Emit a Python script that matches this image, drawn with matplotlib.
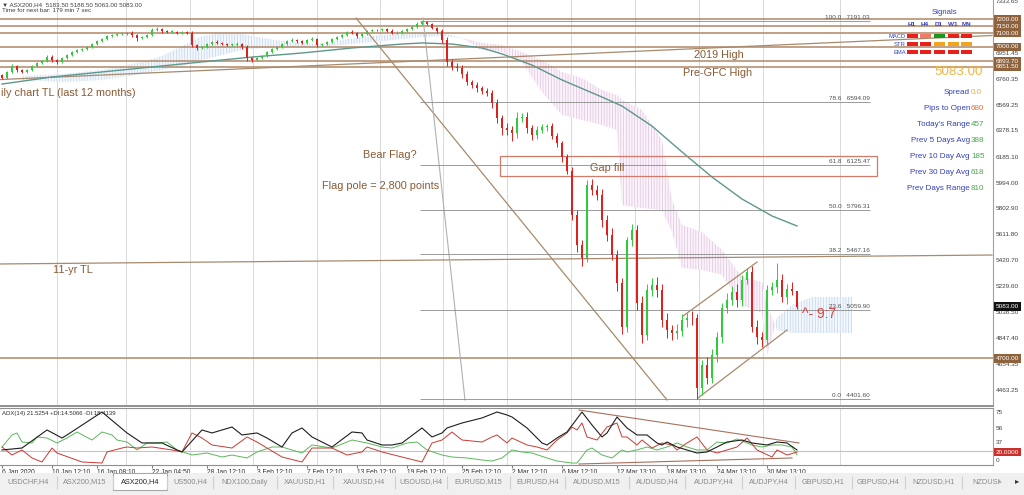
import numpy as np
import matplotlib
matplotlib.use("Agg")
import matplotlib.pyplot as plt
from matplotlib.patches import Rectangle

plt.rcParams['font.family'] = ['Liberation Sans', 'DejaVu Sans']
plt.rcParams['hatch.linewidth'] = 0.5

# ---------------- data (ASX200 H4, one candle per two bars) ----------------
first_open = 6790
closes = [6768, 6813, 6857, 6828, 6813, 6828, 6857, 6879, 6894, 6923,
          6901, 6887, 6916, 6938, 6960, 6975, 6982, 6997, 7019, 7041,
          7056, 7078, 7086, 7093, 7095, 7100, 7086, 7064, 7071, 7086,
          7123, 7130, 7115, 7108, 7110, 7100, 7108, 7100, 7012, 6990,
          6997, 7019, 7034, 7027, 7019, 7012, 7015, 7019, 6997, 6916,
          6901, 6916, 6931, 6960, 6982, 6997, 7019, 7041, 7049, 7041,
          7027, 7049, 7056, 7012, 7019, 7034, 7056, 7071, 7086, 7108,
          7100, 7078, 7093, 7115, 7123, 7120, 7130, 7115, 7100, 7104,
          7115, 7130, 7145, 7167, 7182, 7167, 7137, 7115, 7049, 6887,
          6850, 6842, 6798, 6739, 6717, 6695, 6673, 6658, 6584, 6474,
          6400, 6385, 6363, 6474, 6481, 6400, 6348, 6385, 6407, 6415,
          6341, 6289, 6186, 6083, 5758, 5537, 5441, 5980, 5943, 5906,
          5721, 5611, 5463, 5257, 4932, 5574, 5647, 5109, 4873, 5205,
          5242, 5205, 4984, 4910, 4888, 4905, 4984, 4999, 4995, 4482,
          4652, 4556, 4726, 4858, 5072, 5131, 5190, 5131, 5279, 5338,
          4932, 4858, 4836, 5205, 5227, 5279, 5153, 5212, 5200, 5083]
upper_wick = [10, 8, 12, 6, 8, 10, 8, 6, 10, 12,
              15, 8, 6, 10, 8, 6, 10, 8, 6, 8,
              10, 6, 8, 10, 6, 8, 12, 6, 10, 8,
              15, 12, 8, 6, 10, 8, 6, 10, 12, 8,
              6, 10, 8, 12, 6, 10, 8, 12, 10, 15,
              10, 8, 6, 10, 8, 6, 10, 8, 12, 10,
              8, 10, 15, 8, 6, 10, 8, 6, 10, 8,
              12, 10, 6, 8, 10, 6, 8, 10, 12, 8,
              6, 8, 10, 12, 9, 10, 8, 10, 15, 20,
              25, 30, 20, 25, 15, 20, 15, 25, 20, 30,
              25, 40, 30, 45, 30, 35, 25, 30, 20, 15,
              20, 25, 15, 20, 30, 40, 35, 37, 40, 35,
              45, 40, 50, 35, 40, 22, 45, 40, 55, 45,
              50, 60, 45, 55, 40, 50, 45, 40, 50, 35,
              40, 60, 45, 40, 35, 50, 45, 60, 40, 30,
              45, 50, 40, 35, 40, 122, 45, 40, 50, 0]
lower_wick = [8, 6, 10, 12, 8, 6, 10, 8, 6, 10,
              12, 15, 8, 6, 10, 8, 6, 10, 8, 6,
              8, 10, 6, 8, 10, 6, 15, 20, 8, 6,
              10, 8, 12, 6, 8, 10, 6, 8, 15, 12,
              10, 8, 6, 10, 8, 6, 10, 8, 12, 20,
              15, 10, 8, 6, 10, 8, 6, 10, 8, 12,
              10, 6, 8, 15, 10, 8, 6, 10, 8, 6,
              10, 12, 8, 6, 10, 8, 6, 8, 10, 6,
              8, 6, 10, 8, 6, 10, 8, 12, 20, 30,
              25, 20, 30, 25, 20, 30, 25, 20, 35, 40,
              50, 40, 60, 35, 30, 40, 35, 30, 25, 30,
              25, 30, 35, 25, 40, 50, 61, 30, 35, 40,
              50, 45, 40, 60, 50, 40, 45, 50, 59, 40,
              45, 50, 55, 60, 50, 45, 40, 50, 45, 80,
              50, 45, 40, 50, 45, 35, 40, 50, 45, 30,
              40, 50, 55, 40, 35, 45, 40, 50, 35, 20]

ma_bars = [0, 10, 20, 30, 40, 50, 60, 70, 80, 84, 90, 96, 100, 106, 112,
           120, 124, 130, 136, 142, 148, 154, 159]
ma_vals = [6724, 6776, 6813, 6850, 6887, 6923, 6953, 6990, 7019, 7027, 7019,
           6990, 6946, 6864, 6754, 6628, 6562, 6414, 6223, 6038, 5876, 5751, 5677]

cloud_bars = [4, 8, 12, 16, 20, 24, 28, 32, 36, 40, 44, 48, 52, 56, 60, 64, 68,
              72, 76, 80, 84, 88, 92, 96, 100, 104, 108, 112, 116, 120, 123, 124,
              128, 132, 134, 136, 140, 144, 148, 152, 153, 155, 158, 162, 166, 170]
span_a = [6783, 6791, 6798, 6813, 6828, 6857, 6887, 6931, 7005, 7078, 7100, 7093,
          7064, 7041, 7027, 7019, 7049, 7071, 7086, 7093, 7100, 7100, 7064, 6975,
          6960, 6887, 6665, 6496, 6459, 6422, 6385, 5832, 5810, 5795, 5633, 5367,
          5353, 5316, 5094, 5035, 4726, 4999, 5094, 5153, 5153, 5153]
span_b = [6754, 6746, 6739, 6746, 6754, 6776, 6798, 6828, 6857, 6901, 6938, 6975,
          6990, 6997, 6997, 6997, 7012, 7027, 7041, 7056, 7071, 7078, 7064, 7027,
          7012, 6960, 6901, 6813, 6768, 6680, 6643, 6606, 6533, 6311, 5869, 5684,
          5633, 5501, 5301, 5264, 5094, 4910, 4888, 4888, 4888, 4888]

levels = [7200.00, 7150.00, 7100.00, 7000.00, 6893.70, 6851.50, 4700.00]
fib_pcts = [100.0, 78.6, 61.8, 50.0, 38.2, 23.6, 0.0]
fib_prices = [7191.03, 6594.09, 6125.47, 5796.31, 5467.16, 5059.90, 4401.60]
price_ticks = [7333.65, 6951.45, 6760.35, 6569.25, 6378.15, 6185.10, 5994.00,
               5802.90, 5611.80, 5420.70, 5229.60, 5038.50, 4847.40, 4654.35, 4463.25]
last_price = 5083.00

# trendlines (bar0, price0, bar1, price1)
brown_lines = [(-0.4, 6757, 198.0, 7082),    # daily chart TL
               (-0.4, 5397, 198.0, 5463),    # 11-yr TL
               (70.8, 7211, 133.0, 4394),    # flag pole TL
               (136.2, 5013, 151.0, 5411),   # channel top
               (139.2, 4409, 157.0, 4910)]   # channel bottom
gray_line = (84.2, 7211, 92.6, 4394)
gap_box = (99.6, 6046, 175.0, 6193)

# ADX(14) panel
adx_bars = [0, 4, 9, 12, 13, 20, 25, 28, 32, 35, 36, 40, 42, 46, 48, 51, 53, 56, 58, 60,
            62, 64, 66, 70, 72, 73, 76, 78, 80, 84, 86, 88, 89, 92, 96, 99, 101, 102, 105,
            108, 109, 111, 113, 116, 118, 120, 121, 123, 125, 127, 129, 131, 132, 133, 135,
            139, 141, 143, 145, 148, 150, 153, 155, 157, 159]
adx_vals = [21.5, 24.3, 50.4, 38.8, 43.2, 76.4, 46.1, 31.6, 31.6, 21.5, 18.6, 50.4, 46.1,
            54.7, 43.2, 46.1, 38.8, 25.8, 46.1, 53.3, 40.3, 33.0, 25.8, 47.5, 46.1, 35.9,
            28.7, 28.7, 31.6, 53.3, 40.3, 46.1, 53.3, 60.5, 67.8, 76.4, 72.1, 69.2, 53.3,
            31.6, 28.7, 38.8, 47.5, 76.4, 57.6, 40.3, 46.1, 69.2, 53.3, 43.2, 43.2, 31.6,
            28.7, 33.0, 25.8, 17.1, 18.6, 25.8, 33.0, 35.9, 31.6, 28.7, 33.0, 31.6, 21.5]
mdi_bars = [0, 2, 4, 6, 8, 10, 11, 16, 20, 21, 24, 25, 27, 30, 34, 36, 38, 40, 42, 46,
            49, 51, 53, 56, 60, 62, 66, 69, 72, 73, 76, 80, 84, 86, 88, 90, 92, 96, 98, 99,
            101, 102, 105, 107, 109, 111, 113, 114, 115, 116, 117, 119, 121, 123, 124, 125,
            127, 128, 130, 132, 134, 135, 137, 139, 141, 143, 145, 147, 149, 151, 154, 155,
            157, 159]
mdi_vals = [25.8, 14.2, 21.5, 9.9, 4.1, 24.3, 17.1, 4.1, 2.6, 18.6, 24.3, 25.8, 24.3, 25.8,
            21.5, 18.6, 46.1, 38.8, 28.7, 24.3, 40.3, 33.0, 24.3, 11.3, 4.1, 24.3, 24.3, 14.2,
            18.6, 25.8, 18.6, 11.3, 4.1, 31.6, 35.9, 47.5, 35.9, 33.0, 40.3, 43.2, 31.6, 38.8,
            28.7, 25.8, 21.5, 35.9, 46.1, 54.7, 50.4, 60.5, 40.3, 35.9, 54.7, 60.5, 40.3, 40.3,
            28.7, 35.9, 24.3, 31.6, 28.7, 21.5, 31.6, 40.3, 21.5, 17.1, 21.5, 25.8, 38.8, 21.5,
            11.3, 21.5, 14.2, 18.4]
pdi_bars = [0, 2, 3, 4, 6, 7, 9, 11, 13, 15, 18, 20, 22, 23, 25, 27, 29, 31, 33, 35, 38,
            41, 44, 46, 49, 51, 54, 56, 60, 62, 66, 70, 73, 76, 78, 81, 83, 85, 88, 90, 93,
            96, 98, 100, 102, 104, 106, 109, 111, 114, 115, 117, 118, 120, 122, 124, 125, 127,
            129, 131, 133, 135, 137, 139, 141, 143, 145, 147, 149, 150, 152, 154, 156, 158, 159]
pdi_vals = [25.8, 43.2, 46.1, 33.0, 31.6, 40.3, 38.8, 31.6, 38.8, 47.5, 35.9, 47.5, 43.2,
            35.9, 33.0, 21.5, 31.6, 31.6, 33.0, 21.5, 14.2, 17.1, 11.3, 14.2, 9.9, 18.6, 25.8,
            25.8, 17.1, 28.7, 24.3, 35.9, 31.6, 25.8, 24.3, 31.6, 33.0, 21.5, 14.2, 11.3, 9.9,
            7.0, 5.5, 9.9, 21.5, 18.6, 17.1, 9.9, 5.5, 2.6, 2.6, 21.5, 24.3, 14.2, 9.9, 21.5,
            18.6, 21.5, 25.8, 21.5, 25.8, 31.6, 25.8, 21.5, 21.5, 33.0, 31.6, 37.4, 31.6, 28.7,
            25.8, 28.7, 28.7, 25.8, 14.5]
adx_wedge = [(115.4, 79.3, 159.4, 31.6), (115.4, 1.2, 158.0, 9.9)]

date_bars = [0, 10, 19, 30, 41, 51, 61, 71, 81, 92, 102, 112, 123, 133, 143, 153]
date_labels = ["6 Jan 2020", "10 Jan 12:10", "16 Jan 08:10", "22 Jan 04:50",
               "28 Jan 12:10", "3 Feb 12:10", "7 Feb 12:10", "13 Feb 12:10",
               "19 Feb 12:10", "25 Feb 12:10", "2 Mar 12:10", "6 Mar 12:10",
               "12 Mar 13:10", "18 Mar 13:10", "24 Mar 13:10", "30 Mar 13:10"]
grid_bars = [11.0, 24.8, 37.6, 50.2, 63.0, 75.6, 88.2, 101.0, 113.8, 126.6, 139.4, 152.2, 167.6]

sig_tfs = ["H1", "H4", "D1", "W1", "MN"]
sig_rows = ["MACD", "STR", "EMA"]
sig_states = [["sell", "weak", "buy", "sell", "sell"],
              ["sell", "sell", "flat", "flat", "flat"],
              ["sell", "sell", "sell", "sell", "sell"]]
info_names = ["Spread", "Pips to Open", "Today's Range", "Prev 5 Days Avg",
              "Prev 10 Day Avg", "Prev 30 Day Avg", "Prev Days Range"]
info_vals = ["0.0", "680", "457", "388", "185", "618", "810"]

tabs = ["USDCHF,H4", "ASX200,M15", "ASX200,H4", "US500,H4", "NDX100,Daily", "XAUUSD,H1",
        "XAUUSD,H4", "USOUSD,H4", "EURUSD,M15", "EURUSD,H4", "AUDUSD,M15", "AUDUSD,H4",
        "AUDJPY,H4", "AUDJPY,H4", "GBPUSD,H1", "GBPUSD,H4", "NZDUSD,H1", "NZDUSI"]

# ---------------- figure ----------------
W, H = 1024, 495
fig = plt.figure(figsize=(W / 100, H / 100), dpi=100)

def px_axes(x0, y0, x1, y1, **kw):
    return fig.add_axes([x0 / W, 1 - y1 / H, (x1 - x0) / W, (y1 - y0) / H], **kw)

ax = px_axes(0, 0, 993, 406)
axi = px_axes(0, 408, 993, 465)
ov = px_axes(0, 0, W, H, zorder=10)
ov.set_xlim(0, W)
ov.set_ylim(H, 0)
ov.axis('off')

BROWN = '#b08866'
TXT_BROWN = '#8a5a34'
BLUE = '#3341b5'

for a in (ax, axi):
    a.set_xlim(-0.4, 198.2)
    for s in ('top', 'left'):
        a.spines[s].set_visible(False)
    a.spines['right'].set_color('#a0a0a0')
    a.spines['bottom'].set_color('#909090')
    a.set_yticks([])
    for g in grid_bars:
        a.axvline(g, color='#d9d9d9', lw=0.7, zorder=0)
ax.set_xticks([])
ax.set_ylim(4349.5, 7343.8)
ax.spines['bottom'].set_linewidth(1.4)
axi.spines['top'].set_visible(True)
axi.spines['top'].set_color('#909090')

# ichimoku cloud
cb = np.array(cloud_bars)
sa = np.array(span_a)
sb = np.array(span_b)
ax.fill_between(cb, sa, sb, where=sa >= sb, interpolate=True, facecolor='#f4f8fd',
                edgecolor='#bfd4ec', hatch='||||||', lw=0, zorder=1)
ax.fill_between(cb, sa, sb, where=sa < sb, interpolate=True, facecolor='#faf3fa',
                edgecolor='#dfc3df', hatch='||||||', lw=0, zorder=1)

# levels and lines
for lv in levels:
    ax.axhline(lv, color=BROWN, lw=1.1, zorder=2)
for x0, y0, x1, y1 in brown_lines:
    ax.plot([x0, x1], [y0, y1], color='#a88a6c', lw=0.9, zorder=2)
ax.plot(gray_line[::2], gray_line[1::2], color='#b0b0b0', lw=0.8, zorder=2)
ax.hlines(fib_prices, 83.6, 173.6, color='#8c8c8c', lw=0.6, zorder=2)
for p, fp in zip(fib_pcts, fib_prices):
    ax.text(173.6, fp + 8, f"{p:.1f}   {fp:.2f}", fontsize=4.6, color='#505050',
            ha='right', va='bottom', zorder=6)
gx0, gy0, gx1, gy1 = gap_box
ax.add_patch(Rectangle((gx0, gy0), gx1 - gx0, gy1 - gy0, fill=False,
                       edgecolor='#d27a6a', lw=0.9, zorder=3))

ax.plot(ma_bars, ma_vals, color='#5e978d', lw=1.0, zorder=3)

# candles
o = np.array([first_open] + closes[:-1], dtype=float)
c = np.array(closes, dtype=float)
hi = np.maximum(o, c) + np.array(upper_wick)
lo = np.minimum(o, c) - np.array(lower_wick)
bars = np.arange(len(c))
col = np.where(c >= o, '#2ecc3a', '#e0201c')
ax.vlines(bars, lo, hi, colors=col, lw=0.7, zorder=4)
ax.bar(bars, np.maximum(np.abs(c - o), 4), bottom=np.minimum(o, c), width=0.55,
       color=col, lw=0, zorder=5)

# price scale
ytr = ax.get_yaxis_transform()
for p in price_ticks:
    ax.text(1.003, p, f"{p:.2f}", transform=ytr, fontsize=4.6, color='#404040',
            va='center', ha='left', zorder=6)
for lv in levels:
    ax.text(1.003, lv, f"{lv:.2f}", transform=ytr, fontsize=4.6, color='white',
            va='center', ha='left', zorder=7,
            bbox=dict(boxstyle='square,pad=0.25', fc='#8e623c', ec='none'))
ax.text(1.003, last_price, f"{last_price:.2f}", transform=ytr, fontsize=4.6, color='white',
        va='center', ha='left', zorder=7,
        bbox=dict(boxstyle='square,pad=0.25', fc='#111111', ec='none'))

# ADX panel
axi.set_ylim(-0.25, 82.2)
axi.axhline(20, color='#c4c4c4', lw=0.8, zorder=1)
axi.plot(pdi_bars, pdi_vals, color='#5cb85c', lw=0.7, zorder=3)
axi.plot(mdi_bars, mdi_vals, color='#c83a32', lw=0.7, zorder=3)
axi.plot(adx_bars, adx_vals, color='#1e1e1e', lw=0.8, zorder=4)
for x0, y0, x1, y1 in adx_wedge:
    axi.plot([x0, x1], [y0, y1], color='#a8705c', lw=0.8, zorder=2)
axi.set_xticks(date_bars)
axi.set_xticklabels(date_labels, ha='left', fontsize=4.8, color='#303030')
axi.tick_params(axis='x', length=2, pad=1, color='#808080')

# ---------------- overlay texts ----------------
ov.text(2, 5, "\u25bc ASX200,H4  5183.50 5188.50 5063.00 5083.00", fontsize=4.5,
        color='#404040', va='center')
ov.text(2, 10, "Time for next bar: 179 min 7 sec", fontsize=4.5, color='#404040', va='center')

ann = dict(fontsize=7.8, color=TXT_BROWN, va='center')
ov.text(1, 93, "ily chart TL (last 12 months)", ha='left', **ann)
ov.text(694, 55, "2019 High", **ann)
ov.text(683, 73, "Pre-GFC High", **ann)
ov.text(363, 155, "Bear Flag?", **ann)
ov.text(322, 186, "Flag pole = 2,800 points", **ann)
ov.text(590, 168, "Gap fill", **ann)
ov.text(53, 270, "11-yr TL", **ann)
ov.text(802, 314, "^- 9:7", fontsize=10, color='#e04040', va='center')

# signals panel
ov.text(944, 13, "Signals", fontsize=5.6, color=BLUE, ha='center', va='center')
sig_x = [912, 925, 939, 953, 966]
sig_colors = {"sell": '#e8201c', "weak": '#f47a64', "buy": '#18961e', "flat": '#f2a41e'}
for tf, sx in zip(sig_tfs, sig_x):
    ov.text(sx, 25, tf, fontsize=4.6, color=BLUE, weight='bold', ha='center', va='center')
for name, states, ry in zip(sig_rows, sig_states, [36, 44, 52]):
    ov.text(906, ry, name, fontsize=4.2, color=BLUE, ha='right', va='center')
    for st, sx in zip(states, sig_x):
        ov.add_patch(Rectangle((sx - 5.5, ry - 1.8), 11, 3.6, fc=sig_colors[st], ec='none'))
ov.text(959, 72, f"{last_price:.2f}", fontsize=9.6, color='#f2b440', ha='center', va='center')
val_colors = ['#f0a830', '#f06a3c', '#48a848', '#48a848', '#48a848', '#48a848', '#48a848']
for i, (nm, v) in enumerate(zip(info_names, info_vals)):
    y = 92 + 16 * i
    ov.text(970, y, nm, fontsize=5.8, color=BLUE, ha='right', va='center')
    ov.text(971, y, v, fontsize=5.8, color=val_colors[i], ha='left', va='center')

# ADX labels
ov.text(2, 413, "ADX(14) 21.5254 +DI:14.5066 -DI:18.4139", fontsize=4.3,
        color='#303030', va='center')
for lab, yy in zip(["75", "56", "37", "0"], [413, 428, 443, 461]):
    ov.text(996, yy, lab, fontsize=4.6, color='#404040', va='center')
ov.text(996, 452, "20.0000", fontsize=4.6, color='white', va='center',
        bbox=dict(boxstyle='square,pad=0.25', fc='#c8302a', ec='none'))

# tab bar
ov.add_patch(Rectangle((0, 473), W, 22, fc='#f0f0f0', ec='none'))
edges = [0, 57, 113, 167, 213, 277, 333, 395, 447, 510, 565, 629, 685, 742, 795, 852, 905, 962, 1024]
ov.vlines(edges[1:-1], 476, 489, color='#cfcfcf', lw=0.8)
ov.add_patch(Rectangle((113, 473), 54, 17, fc='white', ec='#a8a8a8', lw=0.8))
for i, t in enumerate(tabs):
    if i == len(tabs) - 1:
        ov.text(972, 482, t, fontsize=5.3, color='#8a8a8a', ha='left', va='center')
    else:
        ov.text((edges[i] + edges[i + 1]) / 2, 482, t, fontsize=5.3,
                color='#222222' if i == 2 else '#8a8a8a', ha='center', va='center')
ov.text(1000, 482, "\u25b4", fontsize=5, color='#aaaaaa', ha='center', va='center')
ov.text(1017, 482, "\u25b8", fontsize=6, color='#333333', ha='center', va='center')

fig.savefig("out.png", dpi=100)
